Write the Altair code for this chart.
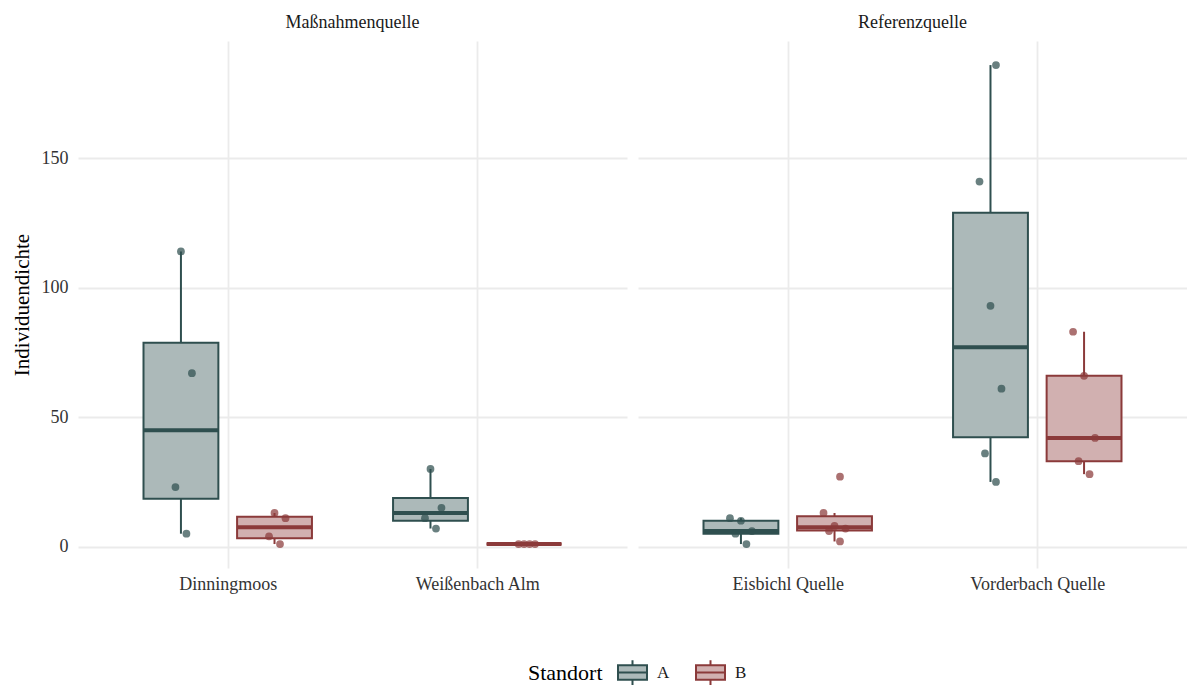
import altair as alt
import pandas as pd

# ---- data ----
sites = ["Dinningmoos", "Weißenbach Alm", "Eisbichl Quelle", "Vorderbach Quelle"]
quelltyp = ["Maßnahmenquelle", "Maßnahmenquelle", "Referenzquelle", "Referenzquelle"]
standorte = ["A", "B"]
werte_A = [[5, 23, 67, 114], [7, 11, 15, 30], [1, 5, 6, 10, 11], [25, 36, 61, 93, 141, 186]]
werte_B = [[1, 4, 11, 13], [1, 1, 1, 1], [2, 6, 7, 8, 13, 27], [28, 33, 42, 66, 83]]
farben = ["#2F4F4F", "#8B3A3A"]
fuellfarben = ["#ACB9B9", "#D1B0B0"]
y_ticks = [0, 50, 100, 150]

rows = []
for i, (site, typ) in enumerate(zip(sites, quelltyp)):
    idx = [s for s, t in zip(sites, quelltyp) if t == typ].index(site)
    for std, werte in zip(standorte, [werte_A[i], werte_B[i]]):
        for w in werte:
            rows.append({"Quelle": site, "Typ": typ, "idx": idx, "Standort": std, "Wert": w})
df = pd.DataFrame(rows)

FONT = "Liberation Serif"
DODGE = 0.1875
HALF = 0.15

# scale for rules/points (no legend); reversed domain order keeps it separate from the legend scales
color_scale = alt.Scale(domain=standorte[::-1], range=farben[::-1])
fill_scale = alt.Scale(domain=standorte, range=fuellfarben)
stroke_scale = alt.Scale(domain=standorte, range=farben)
box_path = "M-1,-0.5L1,-0.5L1,0.5L-1,0.5Z M0,-0.5L0,-0.85 M0,0.5L0,0.85 M-1,0L1,0"
legend = alt.Legend(
    orient="none", legendX=450, legendY=616, direction="horizontal",
    title="Standort", titleOrient="left", titleFont=FONT, titleFontSize=22,
    titleFontWeight="normal", titleColor="#000000", titlePadding=14,
    labelFont=FONT, labelFontSize=17, labelColor="#1A1A1A", labelOffset=9,
    symbolType=box_path, symbolSize=841, symbolStrokeWidth=2, columnPadding=22,
    symbolOpacity=1,
)


def panel(typ, show_y):
    d = df[df.Typ == typ]
    labels = [s for s, t in zip(sites, quelltyp) if t == typ]
    label_expr = f"datum.value == 0 ? '{labels[0]}' : '{labels[1]}'"
    xs = alt.Scale(domain=[-0.6, 1.6], nice=False, zero=False)
    ys = alt.Scale(domain=[-8.25, 195.3], nice=False, zero=False)
    xaxis = alt.Axis(values=[0, 1], labelExpr=label_expr, title=None, ticks=False,
                     domain=False, grid=True, labelPadding=7)
    if show_y:
        yaxis = alt.Axis(values=y_ticks, title="Individuendichte", titleFont=FONT,
                         titleFontSize=21, titleFontWeight="normal", titleColor="#000000",
                         titlePadding=9, labelPadding=10, ticks=False, domain=False, grid=True)
    else:
        yaxis = alt.Axis(values=y_ticks, title=None, labels=False, ticks=False,
                         domain=False, grid=True)

    base = alt.Chart(d)
    stats = (
        base.transform_joinaggregate(
            q1="q1(Wert)", q3="q3(Wert)", med="median(Wert)", groupby=["Quelle", "Standort"]
        )
        .transform_calculate(
            lof="datum.q1 - 1.5 * (datum.q3 - datum.q1)",
            hif="datum.q3 + 1.5 * (datum.q3 - datum.q1)",
        )
        .transform_filter("datum.Wert >= datum.lof && datum.Wert <= datum.hif")
        .transform_aggregate(
            lo="min(Wert)", hi="max(Wert)", q1="min(q1)", q3="min(q3)", med="min(med)",
            groupby=["Quelle", "Standort", "idx"],
        )
        .transform_calculate(
            xc=f"datum.idx + (datum.Standort == 'A' ? -{DODGE} : {DODGE})",
        )
        .transform_calculate(xl=f"datum.xc - {HALF}", xr=f"datum.xc + {HALF}")
    )
    col = alt.Color("Standort:N", scale=color_scale, legend=None)

    whisk_lo = stats.mark_rule(strokeWidth=2).encode(
        x=alt.X("xc:Q", scale=xs, axis=xaxis),
        y=alt.Y("lo:Q", scale=ys, axis=yaxis),
        y2="q1:Q", color=col,
    )
    whisk_hi = stats.mark_rule(strokeWidth=2).encode(
        x=alt.X("xc:Q", scale=xs, axis=xaxis),
        y=alt.Y("q3:Q", scale=ys, axis=yaxis),
        y2="hi:Q", color=col,
    )
    box = stats.mark_rect(strokeWidth=2).encode(
        x=alt.X("xl:Q", scale=xs, axis=xaxis), x2="xr:Q",
        y=alt.Y("q1:Q", scale=ys, axis=yaxis), y2="q3:Q",
        fill=alt.Fill("Standort:N", scale=fill_scale, legend=legend),
        stroke=alt.Stroke("Standort:N", scale=stroke_scale, legend=legend),
    )
    median = stats.mark_rule(strokeWidth=4).encode(
        x=alt.X("xl:Q", scale=xs, axis=xaxis), x2="xr:Q",
        y=alt.Y("med:Q", scale=ys, axis=yaxis), color=col,
    )
    points = (
        base.transform_window(row="row_number()", groupby=["Quelle", "Standort"])
        .transform_calculate(
            jx=f"datum.idx + (datum.Standort == 'A' ? -{DODGE} : {DODGE})"
               " + ((datum.row * 3) % 5 - 2) * 0.022"
        )
        .mark_circle(size=60, opacity=0.72)
        .encode(
            x=alt.X("jx:Q", scale=xs, axis=xaxis),
            y=alt.Y("Wert:Q", scale=ys, axis=yaxis),
            color=col,
        )
    )
    return alt.layer(whisk_lo, whisk_hi, box, median, points).properties(
        width=549, height=527,
        title=alt.TitleParams(typ, font=FONT, fontSize=18, fontWeight="normal",
                              color="#1A1A1A", anchor="middle", offset=9),
    )


chart = (
    alt.hconcat(panel("Maßnahmenquelle", True), panel("Referenzquelle", False), spacing=11)
    .resolve_scale(x="independent", y="shared", color="shared", fill="shared", stroke="shared")
    .resolve_axis(x="independent", y="independent")
    .properties(padding={"left": 3, "top": 6, "right": 0, "bottom": 0})
    .configure_view(stroke=None)
    .configure_axis(
        labelFont=FONT, labelFontSize=18, labelColor="#333333",
        gridColor="#EBEBEB", gridWidth=1.8,
    )
)

chart.save("out.html", embed_options={"renderer": "svg", "actions": False})
